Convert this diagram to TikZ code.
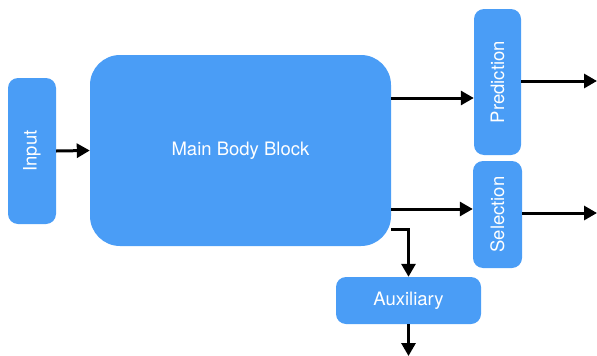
\documentclass[tikz,border=0pt]{standalone}
\usepackage{fontspec}
\setmainfont{TeX Gyre Heros}
\usetikzlibrary{arrows.meta}
\definecolor{blockblue}{HTML}{4A9DF6}
\tikzset{
  block/.style={draw=none, fill=blockblue, text=white, rectangle, rounded corners=10pt,
    inner sep=0pt, font=\fontsize{18.5}{22}\selectfont},
  arr/.style={line width=3pt, -{Triangle[length=13pt,width=14pt]}}
}
\begin{document}
\begin{tikzpicture}[x=1pt, y=-1pt]
        \useasboundingbox (0,0) rectangle (597,356);
        % Blocks
        \node[block, rotate=90, minimum width=146pt, minimum height=48pt] (in) at (32,151) {Input};
        \node[block, rounded corners=30pt, minimum width=301pt, minimum height=191pt] (main) at (240.5,150.5) {Main Body Block};
        \node[block, rotate=90, minimum width=146pt, minimum height=47pt] (pred) at (497.5,82) {Prediction};
        \node[block, rotate=90, minimum width=107pt, minimum height=49pt] (sel) at (497.5,214.5) {Selection};
        \node[block, minimum width=145pt, minimum height=47pt] (aux) at (408.5,300.5) {Auxiliary};
        
        % Free ends of the output arrows
        \coordinate (predout) at (597,81);
        \coordinate (selout) at (597,213);
        \coordinate (auxout) at (408.5,356);
        
        % Connections
        \draw[arr] (in.south) -- (main.west);
        \draw[arr] (main.east |- 0,98) -- (pred.north |- 0,98);
        \draw[arr] (main.east |- 0,209) -- (sel.north |- 0,209);
        \draw[arr] (main.east |- 0,229) -| (aux.north);
        \draw[arr] (pred.south |- predout) -- (predout);
        \draw[arr] (sel.south |- selout) -- (selout);
        \draw[arr] (aux.south) -- (auxout);
\end{tikzpicture}
\end{document}
